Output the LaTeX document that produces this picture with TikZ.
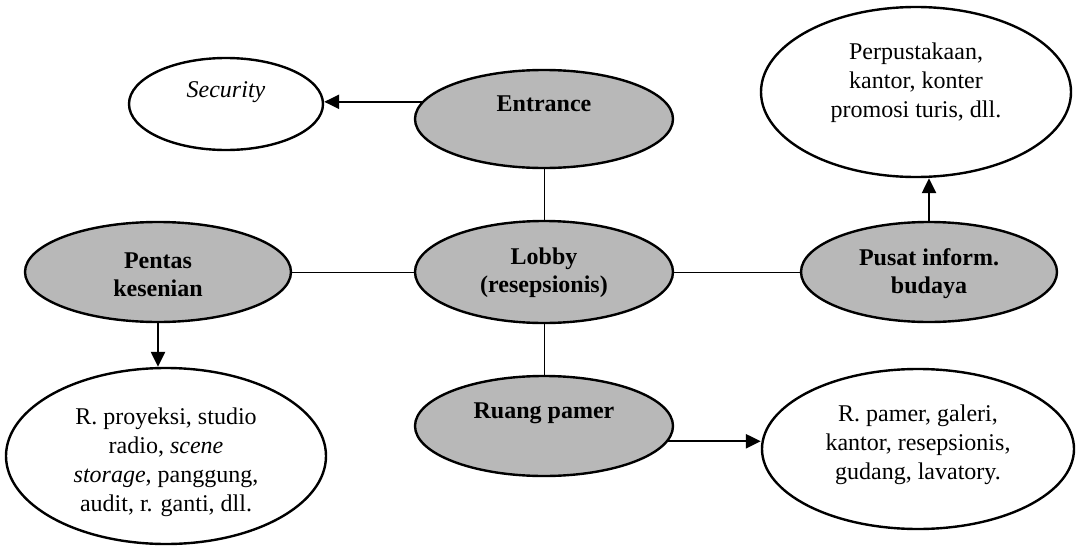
\documentclass[tikz,border=0pt]{standalone}
\usepackage{fontspec}
\setmainfont{Liberation Serif}
\usetikzlibrary{shapes.geometric,arrows.meta}

\begin{document}
\begin{tikzpicture}[x=0.5pt,y=-0.5pt,
  bubble/.style={ellipse,draw=black,line width=1.2pt,inner sep=0pt},
  core/.style={bubble,fill=black!28},
  room/.style={bubble,fill=white},
  roomtext/.style={align=center,inner sep=0pt,font=\fontsize{12}{14.5}\selectfont},
  coretext/.style={align=center,inner sep=0pt,font=\fontsize{12}{14}\selectfont\bfseries},
  link/.style={line width=0.5pt},
  flow/.style={line width=1.2pt,-{Triangle[length=7.5pt,width=7pt]}}]

\useasboundingbox (0,0) rectangle (1076,546);

% central spine: entrance, lobby, exhibition hall
\node[core,minimum width=129pt,minimum height=49pt] (entrance) at (544,119) {};
\node[coretext] (entrance text) at (544,104) {Entrance};

\node[core,minimum width=129pt,minimum height=51pt] (lobby) at (544,272) {};
\node[coretext] (lobby text) at (544,273) {Lobby\\(resepsionis)};

\node[core,minimum width=129pt,minimum height=50pt] (ruang) at (544,426) {};
\node[coretext] (ruang text) at (544,413) {Ruang pamer};

% side wings
\node[core,minimum width=133pt,minimum height=50pt] (pentas) at (158,272) {};
\node[coretext] (pentas text) at (158,275) {Pentas\\kesenian};

\node[core,minimum width=128pt,minimum height=50pt] (pusat) at (929,272) {};
\node[coretext] (pusat text) at (929,274) {Pusat inform.\\budaya};

% supporting rooms
\node[room,minimum width=97pt,minimum height=46pt] (security) at (226,104) {};
\node[roomtext] (security text) at (226,92) {\itshape Security};

\node[room,minimum width=155pt,minimum height=85pt] (perpus) at (916,92) {};
\node[roomtext] (perpus text) at (916,83) {Perpustakaan,\\kantor, konter\\promosi turis, dll.};

\node[room,minimum width=160pt,minimum height=88pt] (proyeksi) at (166,456) {};
\node[roomtext] (proyeksi text) at (166,462) {R. proyeksi, studio\\radio, \textit{scene}\\\textit{storage}, panggung,\\audit, r. ganti, dll.};

\node[room,minimum width=156pt,minimum height=80pt] (galeri) at (918,449) {};
\node[roomtext] (galeri text) at (918,445) {R. pamer, galeri,\\kantor, resepsionis,\\gudang, lavatory.};

% plain links between the main spaces
\draw[link] (entrance.south) -- (lobby.north);
\draw[link] (lobby.south) -- (ruang.north);
\draw[link] (pentas.east) -- (lobby.west);
\draw[link] (lobby.east) -- (pusat.west);

% arrows to the supporting rooms
\draw[flow] (entrance.172.5) -- (entrance.172.5 -| security.east);
\draw[flow] (pentas.south) -- (pentas.south |- proyeksi.north);
\draw[flow] (pusat.north) -- (pusat.north |- perpus.south);
\draw[flow] (ruang.-7.5) -- (ruang.-7.5 -| galeri.west);

\end{tikzpicture}
\end{document}
